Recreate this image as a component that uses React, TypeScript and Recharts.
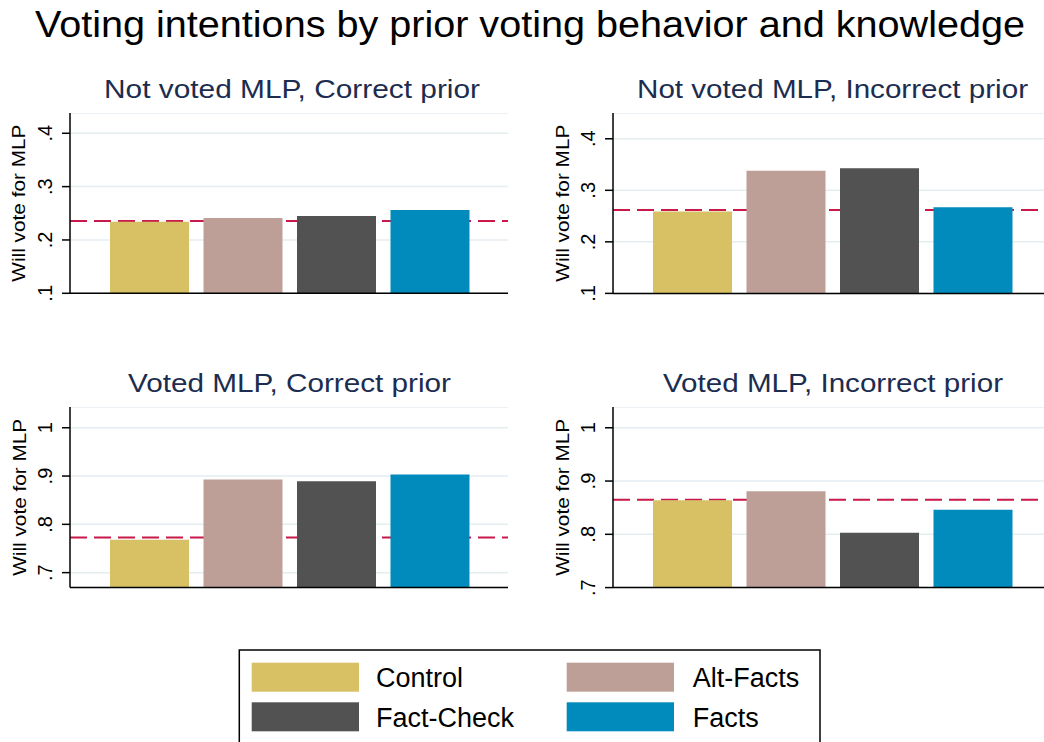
import React from 'react';
import { BarChart, Bar, XAxis, YAxis, CartesianGrid, ReferenceLine } from 'recharts';

const FONT = '"Liberation Sans", Arial, Helvetica, sans-serif';

// ---- data ----
const groups = ['Control', 'Alt-Facts', 'Fact-Check', 'Facts'];
const seriesKeys = ['control', 'altFacts', 'factCheck', 'facts'];
const seriesColors = ['#D8C164', '#BD9F98', '#525252', '#008BBC'];

const panelTitles = [
  'Not voted MLP, Correct prior',
  'Not voted MLP, Incorrect prior',
  'Voted MLP, Correct prior',
  'Voted MLP, Incorrect prior',
];
const notVotedCorrect = [0.234, 0.241, 0.245, 0.256];
const notVotedIncorrect = [0.259, 0.338, 0.343, 0.267];
const votedCorrect = [0.768, 0.893, 0.889, 0.903];
const votedIncorrect = [0.864, 0.881, 0.803, 0.846];
const controlMeans = [0.2356, 0.262, 0.7725, 0.865];

const topTicks = [0.1, 0.2, 0.3, 0.4];
const bottomTicks = [0.7, 0.8, 0.9, 1];
const topTickLabels = ['.1', '.2', '.3', '.4'];
const bottomTickLabels = ['.7', '.8', '.9', '1'];

const domains: [number, number][] = [
  [0.1, 0.438],
  [0.1, 0.45],
  [0.669, 1.043],
  [0.7, 1.039],
];

const yAxisTitle = 'Will vote for MLP';
const mainTitle = 'Voting intentions by prior voting behavior and knowledge';

const X_AXIS_SPACE = 30;

type PanelProps = {
  left: number;
  top: number;
  width: number;
  plotHeight: number;
  values: number[];
  refValue: number;
  domain: [number, number];
  ticks: number[];
  tickLabels: string[];
};

function Panel({ left, top, width, plotHeight, values, refValue, domain, ticks, tickLabels }: PanelProps) {
  const row: Record<string, any> = { panel: 'p' };
  seriesKeys.forEach((k, i) => {
    row[k] = values[i];
  });
  const data = [row];
  const height = plotHeight + X_AXIS_SPACE;

  const renderTick = (props: any) => {
    const { y, payload } = props;
    const idx = ticks.indexOf(payload.value);
    const label = idx >= 0 ? tickLabels[idx] : String(payload.value);
    return (
      <text
        x={52}
        y={y}
        transform={`rotate(-90 52 ${y})`}
        textAnchor="middle"
        fontSize={20}
        fontFamily={FONT}
        fill="#000"
      >
        {label}
      </text>
    );
  };

  const renderLabel = (props: any) => {
    const vb = props.viewBox || {};
    const cy = (vb.y ?? 0) + (vb.height ?? plotHeight) / 2;
    return (
      <text
        x={25.5}
        y={cy}
        transform={`rotate(-90 25.5 ${cy})`}
        textAnchor="middle"
        fontSize={19}
        fontFamily={FONT}
        fill="#000"
        textLength={157}
        lengthAdjust="spacingAndGlyphs"
      >
        {yAxisTitle}
      </text>
    );
  };

  return (
    <div style={{ position: 'absolute', left, top, width, height }}>
      <BarChart
        width={width}
        height={height}
        data={data}
        margin={{ top: 0, right: 0, bottom: 0, left: 0 }}
        barCategoryGap={40}
        barGap={14.5}
      >
        <CartesianGrid horizontal vertical={false} stroke="#E4EDF0" strokeWidth={1.5} />
        <XAxis
          dataKey="panel"
          type="category"
          height={X_AXIS_SPACE}
          tick={false}
          tickLine={false}
          axisLine={{ stroke: '#000', strokeWidth: 1.5 }}
        />
        <YAxis
          type="number"
          width={70}
          domain={domain}
          ticks={ticks}
          allowDataOverflow
          tickSize={8}
          tickMargin={0}
          tickLine={{ stroke: '#000', strokeWidth: 1.5 }}
          axisLine={{ stroke: '#000', strokeWidth: 1.5 }}
          tick={renderTick}
          label={{ content: renderLabel }}
        />
        <ReferenceLine
          y={refValue}
          stroke="#C8194A"
          strokeWidth={2}
          strokeDasharray="17 7"
          zIndex={250}
        />
        {seriesKeys.map((k, i) => (
          <Bar key={k} dataKey={k} name={groups[i]} fill={seriesColors[i]} isAnimationActive={false} />
        ))}
      </BarChart>
    </div>
  );
}

const titleColor = '#1C2D4F';

export default function App() {
  const panelTitleSpecs = [
    { x: 292, y: 98.3, len: 376 },
    { x: 832.5, y: 98.3, len: 391 },
    { x: 289.5, y: 392, len: 323 },
    { x: 833, y: 392, len: 340 },
  ];
  const legendItems = [
    { x: 251.7, y: 662.7, tx: 376, ty: 687.3 },
    { x: 566.7, y: 662.7, tx: 692.7, ty: 687.3 },
    { x: 251.7, y: 702.3, tx: 376, ty: 726.5 },
    { x: 566.7, y: 702.3, tx: 692.7, ty: 726.5 },
  ];
  return (
    <div
      style={{
        position: 'absolute',
        left: 0,
        top: 0,
        width: 1044,
        height: 742,
        overflow: 'hidden',
        background: '#fff',
        fontFamily: FONT,
      }}
    >
      <svg width={1044} height={742} style={{ position: 'absolute', left: 0, top: 0 }}>
        <text
          x={530}
          y={37.3}
          textAnchor="middle"
          fontSize={36}
          fontFamily={FONT}
          fill="#000"
          textLength={990}
          lengthAdjust="spacingAndGlyphs"
        >
          {mainTitle}
        </text>
        {panelTitles.map((t, i) => (
          <text
            key={t}
            x={panelTitleSpecs[i].x}
            y={panelTitleSpecs[i].y}
            textAnchor="middle"
            fontSize={26}
            fontFamily={FONT}
            fill={titleColor}
            textLength={panelTitleSpecs[i].len}
            lengthAdjust="spacingAndGlyphs"
          >
            {t}
          </text>
        ))}
        <rect x={239.3} y={650} width={580.7} height={120} fill="none" stroke="#000" strokeWidth={1.5} />
        {groups.map((g, i) => (
          <g key={g}>
            <rect
              x={legendItems[i].x}
              y={legendItems[i].y}
              width={107.3}
              height={29}
              fill={seriesColors[i]}
            />
            <text x={legendItems[i].tx} y={legendItems[i].ty} fontSize={27} fontFamily={FONT} fill="#000">
              {g}
            </text>
          </g>
        ))}
      </svg>
      <Panel
        left={0}
        top={113}
        width={508.3}
        plotHeight={180.3}
        values={notVotedCorrect}
        refValue={controlMeans[0]}
        domain={domains[0]}
        ticks={topTicks}
        tickLabels={topTickLabels}
      />
      <Panel
        left={542.7}
        top={113.3}
        width={510}
        plotHeight={180.4}
        values={notVotedIncorrect}
        refValue={controlMeans[1]}
        domain={domains[1]}
        ticks={topTicks}
        tickLabels={topTickLabels}
      />
      <Panel
        left={0}
        top={406.7}
        width={508.3}
        plotHeight={180.6}
        values={votedCorrect}
        refValue={controlMeans[2]}
        domain={domains[2]}
        ticks={bottomTicks}
        tickLabels={bottomTickLabels}
      />
      <Panel
        left={543.3}
        top={406.7}
        width={510}
        plotHeight={180.6}
        values={votedIncorrect}
        refValue={controlMeans[3]}
        domain={domains[3]}
        ticks={bottomTicks}
        tickLabels={bottomTickLabels}
      />
    </div>
  );
}
